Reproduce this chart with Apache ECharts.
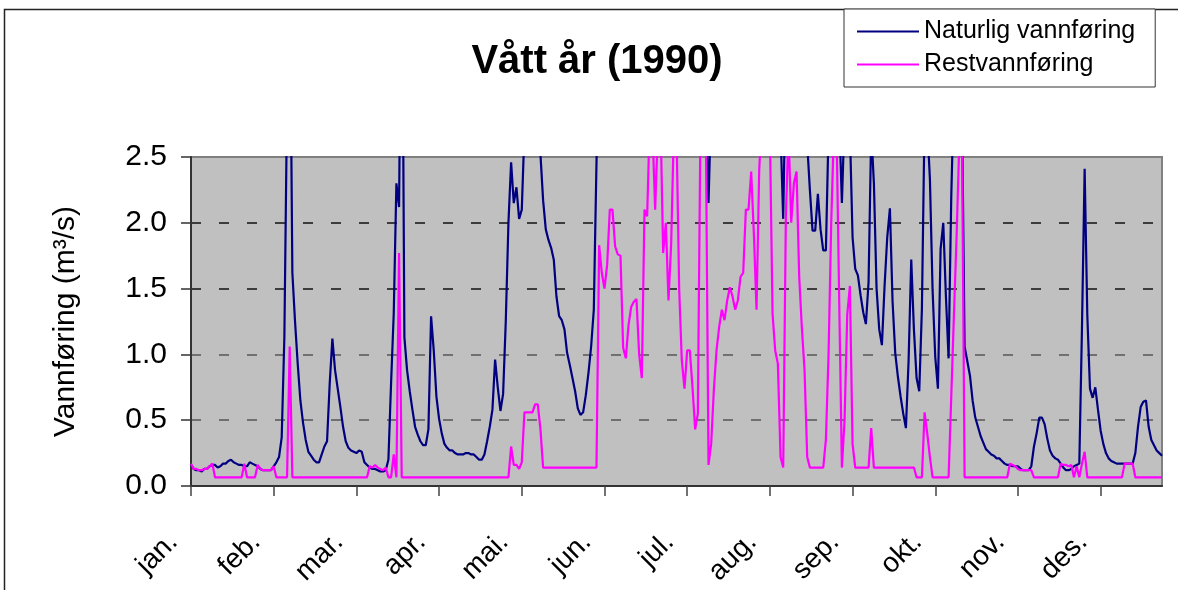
<!DOCTYPE html>
<html>
<head>
<meta charset="utf-8">
<script src="https://cdn.jsdelivr.net/npm/echarts@6/dist/echarts.min.js"></script>
<style>
  html, body { margin: 0; padding: 0; background: #fff; }
  #chart { width: 1178px; height: 590px; }
</style>
</head>
<body>
<div id="chart"></div>
<script>
// Month tick labels (one tick every 31 days)
const monthLabels = ['jan.', 'feb.', 'mar.', 'apr.', 'mai.', 'jun.', 'jul.', 'aug.', 'sep.', 'okt.', 'nov.', 'des.'];

// Daily natural discharge, m3/s (values above 2.5 run off the top of the plot)
const naturalFlow = [
  0.16, 0.13, 0.12, 0.12, 0.11, 0.13, 0.13, 0.15, 0.16, 0.16,
  0.14, 0.15, 0.17, 0.17, 0.19, 0.20, 0.18, 0.17, 0.16, 0.16,
  0.15, 0.15, 0.18, 0.17, 0.16, 0.15, 0.13, 0.12, 0.12, 0.12,
  0.12, 0.15, 0.18, 0.22, 0.37, 1.13, 2.90, 4.00, 1.62, 1.25,
  0.93, 0.65, 0.48, 0.35, 0.26, 0.23, 0.20, 0.18, 0.18, 0.24,
  0.30, 0.34, 0.78, 1.12, 0.88, 0.74, 0.60, 0.45, 0.34, 0.29,
  0.27, 0.26, 0.25, 0.27, 0.26, 0.18, 0.16, 0.14, 0.13, 0.13,
  0.12, 0.11, 0.11, 0.12, 0.20, 0.78, 1.31, 2.30, 2.12, 4.50,
  1.13, 0.88, 0.72, 0.58, 0.45, 0.39, 0.34, 0.31, 0.31, 0.43,
  1.29, 1.03, 0.68, 0.51, 0.40, 0.32, 0.29, 0.27, 0.27, 0.25,
  0.24, 0.24, 0.24, 0.25, 0.25, 0.24, 0.24, 0.22, 0.20, 0.20,
  0.24, 0.34, 0.45, 0.58, 0.96, 0.75, 0.57, 0.70, 1.25, 2.00,
  2.46, 2.15, 2.27, 2.03, 2.10, 2.70, 3.10, 3.40, 3.30, 3.00,
  2.80, 2.52, 2.17, 1.95, 1.87, 1.81, 1.72, 1.44, 1.29, 1.26,
  1.19, 1.01, 0.92, 0.82, 0.72, 0.59, 0.54, 0.56, 0.69, 0.86,
  1.06, 1.34, 2.45, 3.40, 3.80, 4.20, 4.00, 4.40, 4.10, 3.90,
  3.70, 3.50, 3.30, 3.20, 3.40, 3.60, 3.50, 3.30, 3.10, 3.60,
  4.30, 4.60, 4.90, 4.50, 4.00, 4.40, 4.70, 4.10, 3.80, 3.60,
  3.90, 4.50, 4.20, 3.60, 3.30, 3.10, 3.20, 3.10, 2.90, 2.80,
  3.00, 3.90, 3.60, 2.90, 2.15, 2.90, 3.10, 3.20, 3.30, 3.40,
  3.30, 3.40, 3.50, 3.40, 3.30, 3.40, 3.60, 3.60, 4.00, 4.10,
  4.40, 3.90, 3.40, 4.00, 4.80, 5.00, 4.60, 3.90, 3.30, 3.00,
  2.90, 2.70, 2.03, 3.20, 4.00, 3.80, 4.20, 4.10, 3.40, 3.00,
  2.80, 2.60, 2.25, 1.94, 1.94, 2.22, 1.95, 1.79, 1.79, 2.70,
  3.40, 3.90, 3.50, 2.80, 2.15, 2.80, 3.20, 2.70, 1.89, 1.65,
  1.60, 1.45, 1.32, 1.23, 1.55, 2.70, 2.30, 1.50, 1.19, 1.07,
  1.52, 1.89, 2.11, 1.40, 1.01, 0.83, 0.68, 0.55, 0.44, 0.95,
  1.72, 1.19, 0.82, 0.72, 1.35, 2.80, 2.75, 2.33, 1.49, 0.98,
  0.74, 1.80, 2.00, 1.44, 0.97, 2.20, 3.00, 3.50, 3.30, 2.90,
  1.06, 0.95, 0.84, 0.65, 0.52, 0.45, 0.38, 0.33, 0.28, 0.26,
  0.24, 0.23, 0.21, 0.21, 0.19, 0.17, 0.16, 0.16, 0.15, 0.15,
  0.15, 0.13, 0.12, 0.12, 0.12, 0.15, 0.30, 0.40, 0.52, 0.52,
  0.47, 0.36, 0.27, 0.23, 0.21, 0.20, 0.17, 0.14, 0.12, 0.12,
  0.13, 0.15, 0.16, 0.17, 1.20, 2.41, 1.30, 0.74, 0.67, 0.75,
  0.58, 0.42, 0.32, 0.25, 0.21, 0.19, 0.18, 0.17, 0.17, 0.17,
  0.17, 0.17, 0.17, 0.17, 0.25, 0.45, 0.60, 0.64, 0.65, 0.45,
  0.35, 0.31, 0.27, 0.25, 0.23
];

// Daily residual discharge below the intake, m3/s
const residualFlow = [
  0.17, 0.13, 0.13, 0.12, 0.12, 0.13, 0.13, 0.15, 0.17, 0.066,
  0.066, 0.066, 0.066, 0.066, 0.066, 0.066, 0.066, 0.066, 0.066, 0.066,
  0.17, 0.066, 0.066, 0.066, 0.066, 0.16, 0.13, 0.12, 0.12, 0.12,
  0.12, 0.15, 0.066, 0.066, 0.066, 0.066, 0.066, 1.06, 0.066, 0.066,
  0.066, 0.066, 0.066, 0.066, 0.066, 0.066, 0.066, 0.066, 0.066, 0.066,
  0.066, 0.066, 0.066, 0.066, 0.066, 0.066, 0.066, 0.066, 0.066, 0.066,
  0.066, 0.066, 0.066, 0.066, 0.066, 0.066, 0.066, 0.15, 0.14, 0.16,
  0.14, 0.13, 0.12, 0.14, 0.066, 0.066, 0.24, 0.066, 1.77, 0.066,
  0.066, 0.066, 0.066, 0.066, 0.066, 0.066, 0.066, 0.066, 0.066, 0.066,
  0.066, 0.066, 0.066, 0.066, 0.066, 0.066, 0.066, 0.066, 0.066, 0.066,
  0.066, 0.066, 0.066, 0.066, 0.066, 0.066, 0.066, 0.066, 0.066, 0.066,
  0.066, 0.066, 0.066, 0.066, 0.066, 0.066, 0.066, 0.066, 0.066, 0.066,
  0.30, 0.16, 0.16, 0.13, 0.18, 0.56, 0.56, 0.56, 0.56, 0.62,
  0.62, 0.43, 0.14, 0.14, 0.14, 0.14, 0.14, 0.14, 0.14, 0.14,
  0.14, 0.14, 0.14, 0.14, 0.14, 0.14, 0.14, 0.14, 0.14, 0.14,
  0.14, 0.14, 0.14, 1.83, 1.62, 1.50, 1.68, 2.10, 2.10, 1.82,
  1.76, 1.75, 1.05, 0.97, 1.22, 1.36, 1.40, 1.42, 1.00, 0.82,
  2.10, 2.05, 2.80, 2.70, 2.10, 2.70, 2.80, 1.77, 2.00, 1.41,
  1.84, 2.70, 2.70, 1.50, 0.95, 0.74, 1.03, 1.03, 0.75, 0.43,
  0.55, 2.80, 3.00, 2.70, 0.16, 0.32, 0.73, 1.03, 1.21, 1.34,
  1.26, 1.41, 1.51, 1.44, 1.34, 1.41, 1.59, 1.62, 2.10, 2.10,
  2.39, 1.92, 1.34, 2.40, 2.80, 3.00, 3.00, 2.70, 1.31, 1.03,
  0.93, 0.22, 0.14, 2.05, 2.70, 2.00, 2.30, 2.39, 1.59, 1.20,
  0.88, 0.22, 0.14, 0.14, 0.14, 0.14, 0.14, 0.14, 0.35, 1.00,
  2.00, 2.70, 2.70, 1.40, 0.14, 0.50, 1.30, 1.52, 0.32, 0.14,
  0.14, 0.14, 0.14, 0.14, 0.14, 0.44, 0.14, 0.14, 0.14, 0.14,
  0.14, 0.14, 0.14, 0.14, 0.14, 0.14, 0.14, 0.14, 0.14, 0.14,
  0.14, 0.14, 0.066, 0.066, 0.066, 0.56, 0.40, 0.22, 0.066, 0.066,
  0.066, 0.066, 0.066, 0.066, 0.066, 0.68, 1.30, 1.90, 2.60, 2.70,
  0.066, 0.066, 0.066, 0.066, 0.066, 0.066, 0.066, 0.066, 0.066, 0.066,
  0.066, 0.066, 0.066, 0.066, 0.066, 0.066, 0.066, 0.17, 0.16, 0.15,
  0.13, 0.12, 0.12, 0.12, 0.12, 0.12, 0.066, 0.066, 0.066, 0.066,
  0.066, 0.066, 0.066, 0.066, 0.066, 0.066, 0.17, 0.16, 0.16, 0.15,
  0.16, 0.066, 0.15, 0.066, 0.17, 0.26, 0.066, 0.066, 0.066, 0.066,
  0.066, 0.066, 0.066, 0.066, 0.066, 0.066, 0.066, 0.066, 0.066, 0.066,
  0.17, 0.17, 0.17, 0.17, 0.066, 0.066, 0.066, 0.066, 0.066, 0.066,
  0.066, 0.066, 0.066, 0.066, 0.066
];

// Day-of-year categories for the x axis
const days = naturalFlow.map((_, i) => String(i + 1));
const DAYS_PER_TICK = 31;

const FONT = '"Liberation Sans", Arial, sans-serif';
const chart = echarts.init(document.getElementById('chart'), null, { renderer: 'canvas' });

chart.setOption({
  animation: false,
  backgroundColor: '#ffffff',
  graphic: [
    {
      type: 'rect',
      z: -10,
      silent: true,
      shape: { x: 4.5, y: 9.5, width: 1300, height: 700 },
      style: { fill: 'none', stroke: '#222', lineWidth: 1.5 }
    },
    {
      type: 'text',
      x: 597,
      y: 62,
      silent: true,
      style: {
        text: 'Vått år (1990)',
        font: 'bold 40px "Liberation Sans", Arial, sans-serif',
        fill: '#000',
        align: 'center',
        verticalAlign: 'middle',
        textAlign: 'center',
        textVerticalAlign: 'middle'
      }
    }
  ],
  legend: {
    orient: 'vertical',
    left: 844,
    top: 9,
    icon: 'rect',
    itemWidth: 62,
    itemHeight: 2,
    itemGap: 8,
    padding: [10, 20, 10, 13],
    borderColor: '#333',
    borderWidth: 1,
    backgroundColor: '#fff',
    textStyle: { fontSize: 25, color: '#000', fontFamily: FONT },
    data: ['Naturlig vannføring', 'Restvannføring']
  },
  grid: {
    left: 191, right: 16, top: 157, bottom: 104,
    show: true,
    backgroundColor: '#c0c0c0',
    borderColor: '#808080',
    borderWidth: 2
  },
  xAxis: {
    type: 'category',
    data: days,
    boundaryGap: false,
    axisLine: { lineStyle: { color: '#333', width: 2 } },
    axisTick: { interval: DAYS_PER_TICK - 1, length: 10, lineStyle: { color: '#444', width: 1.5 } },
    axisLabel: {
      interval: DAYS_PER_TICK - 1,
      rotate: 45,
      margin: 34,
      padding: [0, 25, 0, 0],
      fontSize: 28,
      color: '#000',
      fontFamily: FONT,
      formatter: (v, i) => (i % DAYS_PER_TICK === 0 ? monthLabels[i / DAYS_PER_TICK] : '')
    },
    splitLine: { show: false }
  },
  yAxis: {
    type: 'value',
    min: 0,
    max: 2.5,
    interval: 0.5,
    name: 'Vannføring (m³/s)',
    nameLocation: 'middle',
    nameGap: 110,
    nameRotate: 90,
    nameTextStyle: { fontSize: 30, color: '#000', fontFamily: FONT },
    axisLine: { show: true, lineStyle: { color: '#333', width: 2 } },
    axisTick: { show: true, length: 10, lineStyle: { color: '#333', width: 1.5 } },
    axisLabel: { margin: 24, fontSize: 30, color: '#000', fontFamily: FONT, formatter: v => v.toFixed(1) },
    splitLine: {
      show: true,
      lineStyle: { type: [10, 18], width: 1.5, color: ['transparent', '#555', '#555', '#111', '#111', 'transparent'] }
    }
  },
  series: [
    {
      name: 'Naturlig vannføring',
      type: 'line',
      data: naturalFlow,
      symbol: 'none',
      clip: true,
      color: '#000080',
      lineStyle: { color: '#000080', width: 2.2 }
    },
    {
      name: 'Restvannføring',
      type: 'line',
      data: residualFlow,
      symbol: 'none',
      clip: true,
      color: '#ff00ff',
      lineStyle: { color: '#ff00ff', width: 2.2 }
    }
  ]
});
</script>
</body>
</html>
